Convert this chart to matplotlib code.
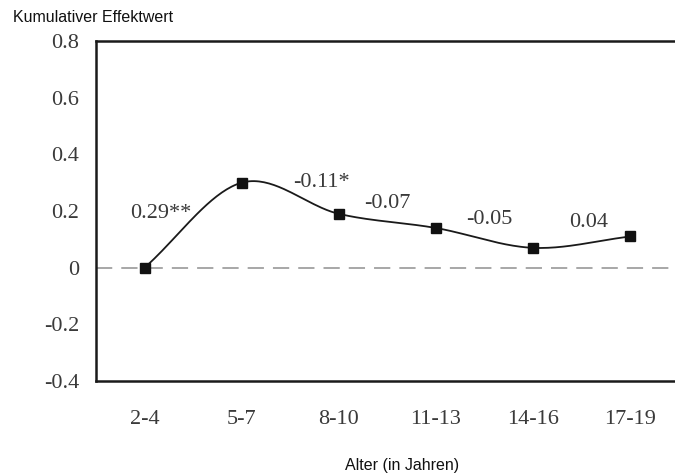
import numpy as np
import matplotlib
matplotlib.use('Agg')
import matplotlib.pyplot as plt

groups = ['2-4', '5-7', '8-10', '11-13', '14-16', '17-19']
cumulative = [0.0, 0.30, 0.19, 0.14, 0.07, 0.11]
effects = ['0.29**', '-0.11*', '-0.07', '-0.05', '0.04']
label_x = [0.17, 1.82, 2.50, 3.55, 4.57]
label_y = [0.19, 0.30, 0.228, 0.17, 0.16]


def catmull_rom(x, y, n=40):
    x = np.asarray(x, float)
    y = np.asarray(y, float)
    px = np.concatenate([[2 * x[0] - x[1]], x, [2 * x[-1] - x[-2]]])
    py = np.concatenate([[2 * y[0] - y[1]], y, [2 * y[-1] - y[-2]]])
    xs, ys = [], []
    t = np.linspace(0, 1, n)
    for i in range(1, len(px) - 2):
        for p, out in ((px, xs), (py, ys)):
            p0, p1, p2, p3 = p[i - 1], p[i], p[i + 1], p[i + 2]
            out.append(0.5 * (2 * p1 + (-p0 + p2) * t
                              + (2 * p0 - 5 * p1 + 4 * p2 - p3) * t ** 2
                              + (-p0 + 3 * p1 - 3 * p2 + p3) * t ** 3))
    return np.concatenate(xs), np.concatenate(ys)


fig = plt.figure(figsize=(6.75, 4.73), dpi=100)
ax = fig.add_axes([96 / 675, 1 - 381 / 473, 1 - 96 / 675 + 0.02, 340 / 473])

serif = 'Liberation Serif'
sans = 'Liberation Sans'

xpos = np.arange(len(groups))
ax.axhline(0, color='#a0a0a0', lw=1.3, dashes=(9, 5), zorder=1)
sx, sy = catmull_rom(xpos, cumulative)
ax.plot(sx, sy, color='#1a1a1a', lw=1.3, zorder=2)
ax.plot(xpos, cumulative, ls='none', marker='s', ms=6.5, color='#111111', zorder=3)

for txt, lx, ly in zip(effects, label_x, label_y):
    ax.text(lx, ly, txt, ha='center', va='center', fontsize=16,
            family=serif, color='#3a3a3a')

ax.set_xlim(-0.5, 5.6)
ax.set_ylim(-0.4, 0.8)
ax.set_yticks([-0.4, -0.2, 0, 0.2, 0.4, 0.6, 0.8])
ax.set_yticklabels(['-0.4', '-0.2', '0', '0.2', '0.4', '0.6', '0.8'])
ax.set_xticks(xpos)
ax.set_xticklabels(groups)
ax.tick_params(length=0, labelsize=16, labelcolor='#3a3a3a')
ax.tick_params(axis='y', pad=12)
ax.tick_params(axis='x', pad=21)
for lab in ax.get_xticklabels() + ax.get_yticklabels():
    lab.set_family(serif)

for side in ['left', 'bottom', 'top']:
    ax.spines[side].set_linewidth(1.8)
    ax.spines[side].set_color('#1a1a1a')
ax.spines['right'].set_visible(False)

fig.text(13 / 675, 1 - 17 / 473, 'Kumulativer Effektwert', ha='left', va='center',
         fontsize=11.5, family=sans, color='#111111')
fig.text(402 / 675, 1 - 465 / 473, 'Alter (in Jahren)', ha='center', va='center',
         fontsize=11.5, family=sans, color='#111111')

fig.savefig('out.png', dpi=100)
